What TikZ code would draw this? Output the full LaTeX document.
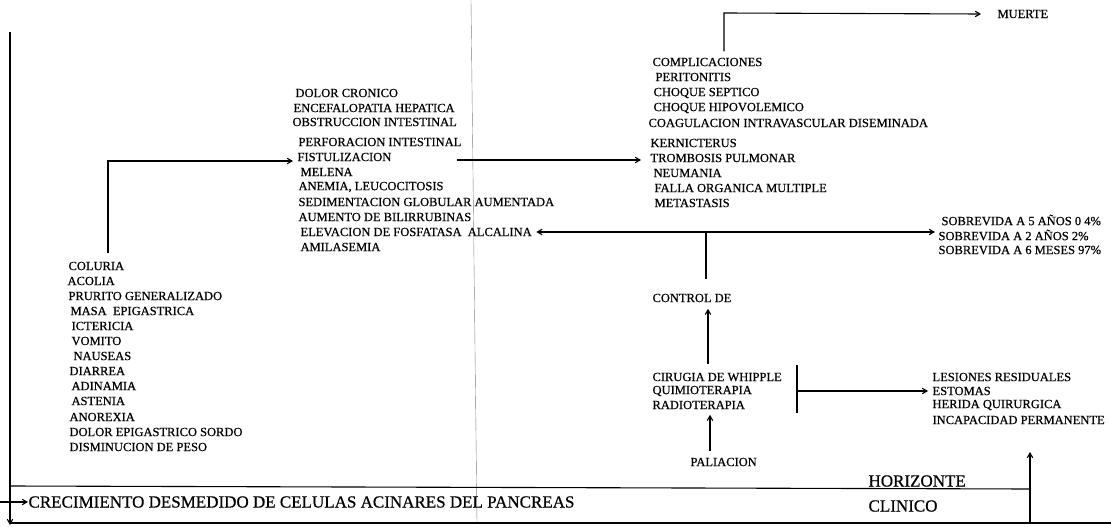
\documentclass[tikz,border=0pt]{standalone}
\usepackage{fontspec}
\setmainfont{Liberation Serif}
\newfontfamily\scanfont{Liberation Serif}[FakeBold=0.6]
\usepackage{tikz}
\usetikzlibrary{arrows}
\usetikzlibrary{positioning}

\begin{document}
\begin{tikzpicture}[x=1pt,y=-1pt,->,>=angle 60,line width=1.1pt,
    item node/.style={anchor=west,inner sep=0pt,font=\scanfont\fontsize{12.5}{15}\selectfont},
    big node/.style={anchor=west,inner sep=0pt,font=\scanfont\fontsize{17}{20}\selectfont},
    plain line/.style={-,line width=1.1pt}]
   \useasboundingbox (0,0) rectangle (1111,527);
   % frame and timeline
   \coordinate (top left) at (10,32);
   \coordinate (bot left) at (10,525);
   \coordinate (box left) at (10,486);
   \coordinate (box right) at (1030,489);
   \coordinate (bot right) at (1111,523);
   \coordinate (horizon) at (1030,523);
   \coordinate (horizon tip) at (1030,452);
   \coordinate (in left) at (0,502);
   \path[-,line width=0.4pt,draw=gray] (471,0) edge (477,523);
   \draw (top left) -- (bot left);
   \draw[plain line] (box left) -- (box right);
   \draw[plain line] (10,523) -- (bot right);
   \draw (horizon) -- (horizon tip);
   \node[big node] (crec) at (28,502) {CRECIMIENTO DESMEDIDO DE CELULAS ACINARES DEL PANCREAS};
   \draw (in left) -- (crec.west);
   \node[big node] (horiz) at (868,481) {HORIZONTE};
   \node[big node] (clin) at (868,506) {CLINICO};
   % symptoms
   \node[item node] (coluria) at (68,266) {COLURIA};
   \node[item node] (acolia) at (67,281) {ACOLIA};
   \node[item node] (prurito) at (68,296) {PRURITO GENERALIZADO};
   \node[item node] (masa) at (70,311) {MASA \ EPIGASTRICA};
   \node[item node] (icter) at (71,326) {ICTERICIA};
   \node[item node] (vomito) at (71,341) {VOMITO};
   \node[item node] (nausea) at (73,356) {NAUSEAS};
   \node[item node] (diarrea) at (69,371) {DIARREA};
   \node[item node] (adin) at (71,386) {ADINAMIA};
   \node[item node] (asten) at (71,401) {ASTENIA};
   \node[item node] (anorex) at (69,417) {ANOREXIA};
   \node[item node] (dolorep) at (69,432) {DOLOR EPIGASTRICO SORDO};
   \node[item node] (peso) at (69,447) {DISMINUCION DE PESO};
   % signs
   \node[item node] (cronico) at (295,93) {DOLOR CRONICO};
   \node[item node] (encef) at (293,108) {ENCEFALOPATIA HEPATICA};
   \node[item node] (obstr) at (292,122) {OBSTRUCCION INTESTINAL};
   \node[item node] (perfor) at (298,142) {PERFORACION INTESTINAL};
   \node[item node] (fistula) at (297,157) {FISTULIZACION};
   \node[item node] (melena) at (300,172) {MELENA};
   \node[item node] (anemia) at (298,187) {ANEMIA, LEUCOCITOSIS};
   \node[item node] (sedim) at (298,202) {SEDIMENTACION GLOBULAR AUMENTADA};
   \node[item node] (bilirr) at (298,217) {AUMENTO DE BILIRRUBINAS};
   \node[item node] (fosfat) at (300,232) {ELEVACION DE FOSFATASA \ ALCALINA};
   \node[item node] (amilas) at (300,247) {AMILASEMIA};
   % complications
   \node[item node] (compl) at (652,62) {COMPLICACIONES};
   \node[item node] (perit) at (655,77) {PERITONITIS};
   \node[item node] (septico) at (653,93) {CHOQUE SEPTICO};
   \node[item node] (hipovol) at (653,108) {CHOQUE HIPOVOLEMICO};
   \node[item node] (coagul) at (648,123) {COAGULACION INTRAVASCULAR DISEMINADA};
   \node[item node] (kernic) at (650,143) {KERNICTERUS};
   \node[item node] (trombo) at (650,158) {TROMBOSIS PULMONAR};
   \node[item node] (neuman) at (653,173) {NEUMANIA};
   \node[item node] (falla) at (654,188) {FALLA ORGANICA MULTIPLE};
   \node[item node] (metast) at (654,203) {METASTASIS};
   \node[item node] (muerte) at (997,14) {MUERTE};
   % outcomes
   \node[item node] (sob5) at (941,220) {SOBREVIDA A 5 AÑOS 0 4\%};
   \node[item node] (sob2) at (938,235) {SOBREVIDA A 2 AÑOS 2\%};
   \node[item node] (sob6) at (938,250) {SOBREVIDA A 6 MESES 97\%};
   \node[item node] (control) at (652,298) {CONTROL DE};
   \node[item node] (whipple) at (652,377) {CIRUGIA DE WHIPPLE};
   \node[item node] (quimio) at (652,391) {QUIMIOTERAPIA};
   \node[item node] (radio) at (652,405) {RADIOTERAPIA};
   \node[item node] (palia) at (690,462) {PALIACION};
   \node[item node] (lesion) at (932,377) {LESIONES RESIDUALES};
   \node[item node] (estoma) at (932,391) {ESTOMAS};
   \node[item node] (herida) at (932,405) {HERIDA QUIRURGICA};
   \node[item node] (incap) at (932,420) {INCAPACIDAD PERMANENTE};
   % connectors
   \coordinate (e1) at (108,161);
   \coordinate (s1) at (457,160);
   \coordinate (m1) at (724,13);
   \coordinate (d1) at (706,233);
   \coordinate (v1) at (708,0);
   \coordinate (v2) at (710,0);
   \coordinate (b1) at (797,365);
   \coordinate (b2) at (797,413);
   \coordinate (b0) at (797,391);
   \draw[shorten <=8pt] (e1 |- coluria.north) -- (e1) -- ([xshift=-4pt]e1 -| fistula.west);
   \draw (s1) -- ([xshift=-9pt]s1 -| trombo.west);
   \draw[shorten <=6pt] (m1 |- compl.north) -- (m1) -- ([xshift=-16pt]muerte.west);
   \draw[<->] ([xshift=4pt]fosfat.east) -- ([xshift=-3pt]fosfat.east -| sob2.west);
   \draw[plain line,shorten >=14pt] (d1) -- (d1 |- control.north);
   \draw[shorten <=8pt,shorten >=6pt] (v1 |- whipple.north) -- (v1 |- control.south);
   \draw[shorten <=6pt,shorten >=5pt] (v2 |- palia.north) -- (v2 |- radio.south);
   \draw[plain line] (b1) -- (b2);
   \draw (b0) -- ([xshift=-4pt]b0 -| estoma.west);
\end{tikzpicture}
\end{document}
